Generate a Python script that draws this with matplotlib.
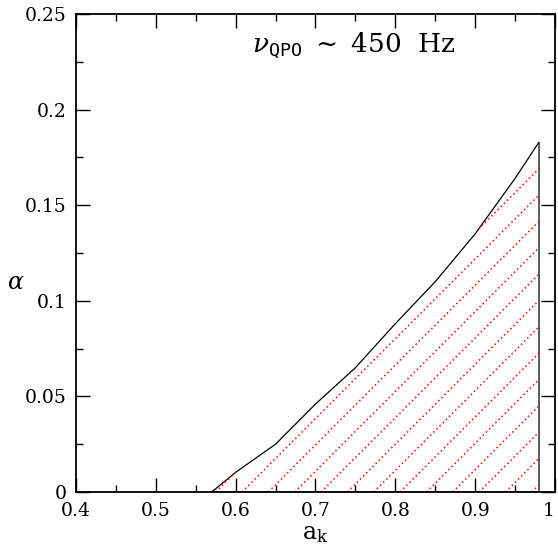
import matplotlib
matplotlib.use('Agg')
import matplotlib.pyplot as plt
from matplotlib.patches import Polygon
from matplotlib.ticker import MultipleLocator
import numpy as np

# data
a_k = [0.57, 0.60, 0.65, 0.70, 0.75, 0.80, 0.85, 0.90, 0.95, 0.98]
alpha = [0.0, 0.0103, 0.025, 0.046, 0.065, 0.088, 0.110, 0.135, 0.164, 0.183]
hatch_start = 0.575   # where the first red line leaves the x axis
hatch_step = 0.033

plt.rcParams['font.family'] = ['DejaVu Serif']
plt.rcParams['mathtext.fontset'] = 'dejavuserif'

fig = plt.figure(figsize=(5.58, 5.48), dpi=100)
ax = fig.add_axes([0.1362, 0.1022, 0.8584, 0.8723])
ax.set_xlim(0.4, 1.0)
ax.set_ylim(0, 0.25)

# region below the curve, closed along the right edge and the axis
xs = a_k + [a_k[-1]]
ys = alpha + [0.0]
region = Polygon(np.column_stack([xs, ys]), closed=True, fill=False,
                 edgecolor='black', linewidth=0.9)
ax.add_patch(region)

# red dotted hatching at 45 degrees on screen
w_px = 0.8584 * 558
h_px = 0.8723 * 548
slope = (0.25 / h_px) / (0.6 / w_px)
x0 = hatch_start
while x0 < a_k[-1]:
    xx = np.array([x0, a_k[-1]])
    line, = ax.plot(xx, slope * (xx - x0), color='red', linewidth=1.1,
                    dashes=(1, 1.9))
    line.set_clip_path(region)
    x0 += hatch_step

ax.xaxis.set_major_locator(MultipleLocator(0.1))
ax.xaxis.set_minor_locator(MultipleLocator(0.05))
ax.yaxis.set_major_locator(MultipleLocator(0.05))
ax.yaxis.set_minor_locator(MultipleLocator(0.025))
ax.tick_params(which='both', direction='in', top=True, right=True,
               labelsize=13.5, width=1.0, pad=7)
ax.tick_params(which='major', length=10)
ax.tick_params(which='minor', length=5)
for s in ax.spines.values():
    s.set_linewidth(1.3)

ax.set_xticks([0.4, 0.5, 0.6, 0.7, 0.8, 0.9, 1.0])
ax.set_xticklabels(['0.4', '0.5', '0.6', '0.7', '0.8', '0.9', '1'])
ax.get_xticklabels()[-1].set_horizontalalignment('right')
ax.set_yticks([0, 0.05, 0.1, 0.15, 0.2, 0.25])
ax.set_yticklabels(['0', '0.05', '0.1', '0.15', '0.2', '0.25'])

ax.set_xlabel(r'$\mathregular{a_k}$', fontsize=17, labelpad=2)
ax.set_ylabel(r'$\alpha$', fontsize=17, rotation=0)
ax.yaxis.set_label_coords(-0.125, 0.415)

ax.text(0.748, 0.2335, r'$\nu_{\mathtt{QPO}}\ \sim\ 450\ \ \mathrm{Hz}$',
        fontsize=19, ha='center', va='center')

fig.savefig('out.png', dpi=100)
